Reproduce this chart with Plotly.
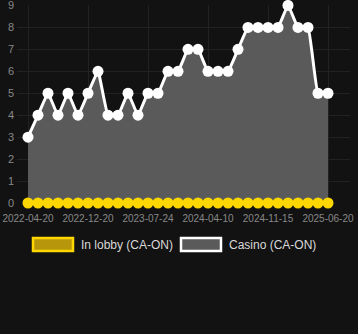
import plotly.graph_objects as go

dates = ["2022-04-20", "2022-05-30", "2022-07-10", "2022-08-20", "2022-09-30", "2022-11-10",
         "2022-12-20", "2023-02-01", "2023-03-10", "2023-04-20", "2023-05-30", "2023-06-30",
         "2023-07-24", "2023-09-10", "2023-10-20", "2023-12-01", "2024-01-10", "2024-02-25",
         "2024-04-10", "2024-05-20", "2024-06-25", "2024-07-30", "2024-09-05", "2024-10-10",
         "2024-11-15", "2025-01-01", "2025-02-10", "2025-03-20", "2025-04-25", "2025-05-25",
         "2025-06-20"]
casino = [3, 4, 5, 4, 5, 4, 5, 6, 4, 4, 5, 4, 5, 5, 6, 6, 7, 7, 6, 6, 6, 7, 8, 8, 8, 8, 9, 8, 8, 5, 5]
lobby = [0] * len(dates)
tick_labels = ["2022-04-20", "2022-12-20", "2023-07-24", "2024-04-10", "2024-11-15", "2025-06-20"]
series_names = ["In lobby (CA-ON)", "Casino (CA-ON)"]

W, H = 358, 334
ML, MR, MT, MB = 17, 8, 5, 131
PW, PH = W - ML - MR, H - MT - MB

def px(x):
    return (x - ML) / PW

def py(y):
    return (H - MB - y) / PH

fig = go.Figure()
fig.add_trace(go.Scatter(
    x=dates, y=casino, name=series_names[1], mode="lines+markers", showlegend=False,
    line=dict(color="#FFFFFF", width=3, shape="spline", smoothing=0.3),
    marker=dict(color="#FFFFFF", size=11),
    fill="tozeroy", fillcolor="#5a5a5a", cliponaxis=False))
fig.add_trace(go.Scatter(
    x=dates, y=lobby, name=series_names[0], mode="lines+markers", showlegend=False,
    line=dict(color="#FFD700", width=3), marker=dict(color="#FFD700", size=11),
    fill="tozeroy", fillcolor="#b8960c", cliponaxis=False))

# legend drawn as boxes + text
legend_items = [
    (33, 73, "#b8960c", "#FFD700", 79, series_names[0]),
    (181, 221, "#5a5a5a", "#FFFFFF", 227, series_names[1]),
]
shapes, annotations = [], []
for x0, x1, fc, lc, tx, label in legend_items:
    shapes.append(dict(type="rect", xref="paper", yref="paper",
                       x0=px(x0), x1=px(x1), y0=py(251), y1=py(238),
                       fillcolor=fc, line=dict(color=lc, width=2.5)))
    annotations.append(dict(xref="paper", yref="paper", x=px(tx), y=py(245),
                            xanchor="left", yanchor="middle", text=label, showarrow=False,
                            font=dict(color="#d8d8d8", size=12)))

fig.update_layout(
    width=W, height=H,
    margin=dict(l=ML, r=MR, t=MT, b=MB),
    paper_bgcolor="#121212", plot_bgcolor="#121212",
    font=dict(family="Liberation Sans, Arial, sans-serif", color="#999999", size=10),
    showlegend=False,
    shapes=shapes, annotations=annotations,
    xaxis=dict(type="category", range=[-1.1, 32.2], tickmode="array",
               tickvals=tick_labels, ticktext=tick_labels, tickangle=0, automargin=False,
               showgrid=True, gridcolor="#222222", zeroline=False, ticklabelstandoff=8,
               ticklabeloverflow="allow", tickfont=dict(size=10, color="#888888")),
    yaxis=dict(range=[0, 9.02], tickmode="array", tickvals=list(range(10)),
               showgrid=True, gridcolor="#222222", automargin=False, ticklabeloverflow="allow",
               zeroline=False, tickfont=dict(size=11, color="#888888"), ticklabelstandoff=2),
)
fig.write_html("out.html")
